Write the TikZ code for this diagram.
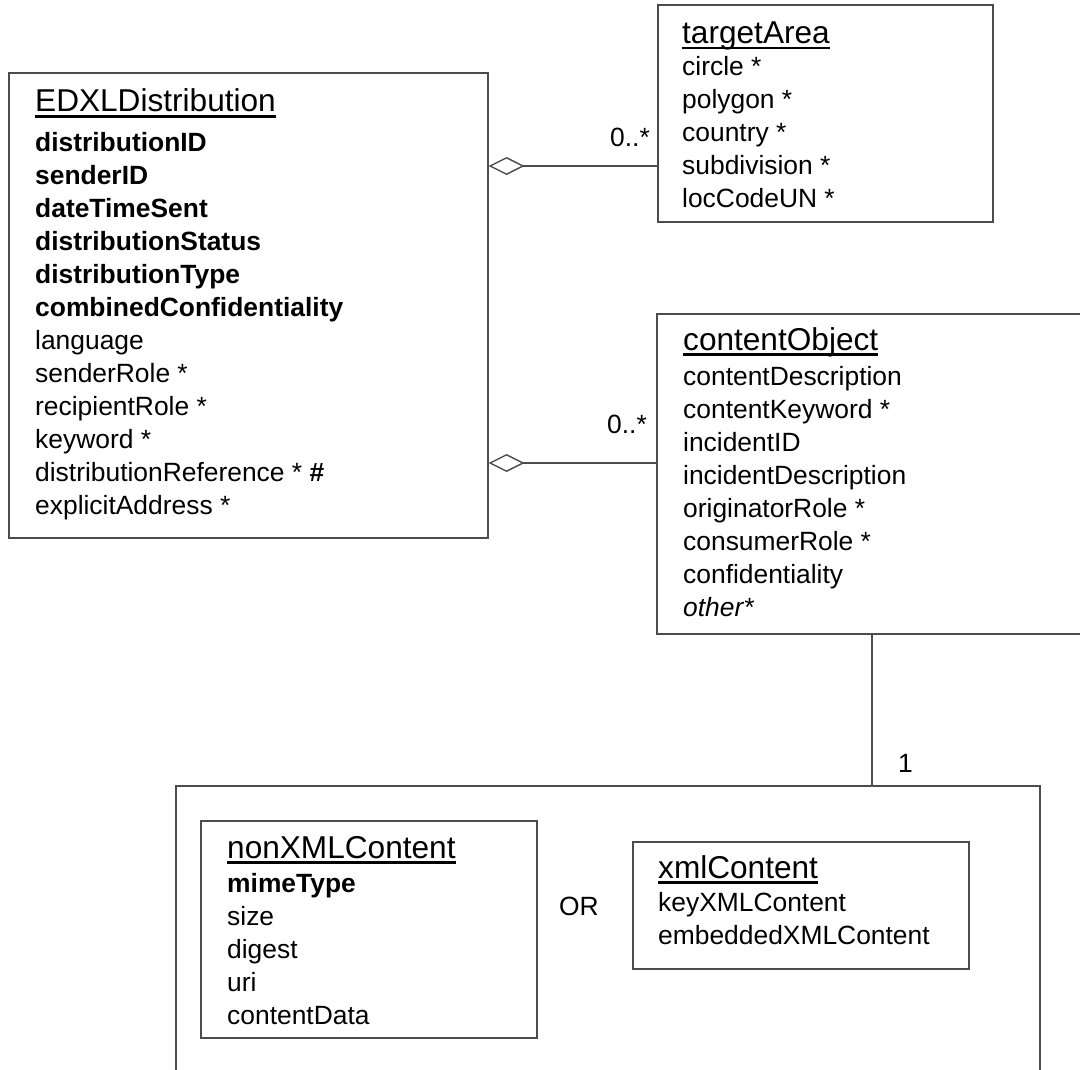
\documentclass[tikz,border=0pt]{standalone}
\usepackage{fontspec}
\setmainfont{Liberation Sans}
\usetikzlibrary{arrows.meta}

\newcommand{\attrfont}{\fontsize{26.4}{33}\selectfont}
\newcommand{\titlefont}{\fontsize{31.6}{38}\selectfont}
\newcommand{\clstitle}[1]{\setbox0=\hbox{#1}\rlap{\rule[-6.2pt]{\wd0}{2.8pt}}\box0}

\begin{document}
\begin{tikzpicture}[x=1pt, y=-1pt,
  clsbox/.style={draw=black!70, line width=1.6pt, inner sep=0pt, anchor=north west},
  clsname/.style={anchor=base west, inner sep=0pt, font=\titlefont},
  attrs/.style={anchor=north west, inner sep=0pt, font=\attrfont},
  mult/.style={inner sep=0pt, font=\attrfont},
  assoc/.style={draw=black!70, line width=1.4pt},
  aggr/.style={assoc, {Diamond[open, length=36pt, width=18pt]}-}
]
\clip (0,0) rectangle (1080,1070);

% class boxes
\node[clsbox, minimum width=479pt, minimum height=465pt] (edxl) at (8,72) {};
\node[clsbox, minimum width=335pt, minimum height=217pt] (target) at (657,4) {};
\node[clsbox, minimum width=440pt, minimum height=320pt] (content) at (656,313) {};
\node[clsbox, minimum width=864pt, minimum height=330pt] (outer) at (175,785) {};
\node[clsbox, minimum width=336pt, minimum height=217pt] (nonxml) at (200,820) {};
\node[clsbox, minimum width=336pt, minimum height=127pt] (xmlc) at (632,841) {};

% EDXLDistribution
\node[clsname] (edxlname) at (35,111.7) {\clstitle{EDXLDistribution}};
\node[attrs] (edxlattr) at (35,128.6) {\begin{tabular}{@{}l@{}}
  \textbf{distributionID}\\
  \textbf{senderID}\\
  \textbf{dateTimeSent}\\
  \textbf{distributionStatus}\\
  \textbf{distributionType}\\
  \textbf{combinedConfidentiality}\\
  language\\
  senderRole *\\
  recipientRole *\\
  keyword *\\
  distributionReference * \textbf{\#}\\
  explicitAddress *
\end{tabular}};

% targetArea
\node[clsname] (targetname) at (682,43.3) {\clstitle{targetArea}};
\node[attrs] (targetattr) at (682,51.9) {\begin{tabular}{@{}l@{}}
  circle *\\
  polygon *\\
  country *\\
  subdivision *\\
  locCodeUN *
\end{tabular}};

% contentObject
\node[clsname] (contentname) at (683,350) {\clstitle{contentObject}};
\node[attrs] (contentattr) at (683,361.9) {\begin{tabular}{@{}l@{}}
  contentDescription\\
  contentKeyword *\\
  incidentID\\
  incidentDescription\\
  originatorRole *\\
  consumerRole *\\
  confidentiality\\
  \textit{other*}
\end{tabular}};

% nonXMLContent
\node[clsname] (nonxmlname) at (227,858) {\clstitle{nonXMLContent}};
\node[attrs] (nonxmlattr) at (227,868.9) {\begin{tabular}{@{}l@{}}
  \textbf{mimeType}\\
  size\\
  digest\\
  uri\\
  contentData
\end{tabular}};

% xmlContent
\node[clsname] (xmlcname) at (658,878) {\clstitle{xmlContent}};
\node[attrs] (xmlcattr) at (658,887.9) {\begin{tabular}{@{}l@{}}
  keyXMLContent\\
  embeddedXMLContent
\end{tabular}};

\node[mult, anchor=base] (or) at (579,915) {OR};

% associations
\coordinate (row1) at (0,166);
\coordinate (row2) at (0,463);
\coordinate (link) at (872,0);
\draw[aggr] (row1 -| edxl.east) -- (row1 -| target.west);
\draw[aggr] (row2 -| edxl.east) -- (row2 -| content.west);
\draw[assoc] (link |- content.south) -- (link |- outer.north);

\node[mult, anchor=base east] (m1) at (650,147) {0..*};
\node[mult, anchor=base east] (m2) at (647,433) {0..*};
\node[mult, anchor=base west] (m3) at (898,772) {1};
\end{tikzpicture}
\end{document}
